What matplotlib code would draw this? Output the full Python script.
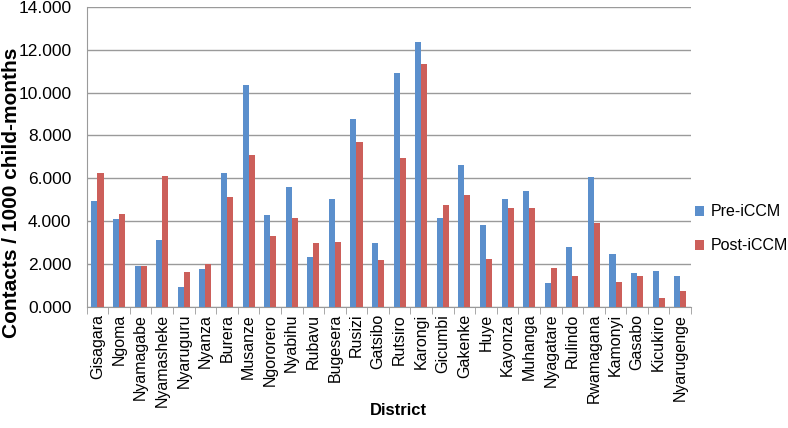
import numpy as np
import matplotlib.pyplot as plt

plt.rcParams['font.family'] = ['Liberation Sans', 'DejaVu Sans']

districts = ["Gisagara", "Ngoma", "Nyamagabe", "Nyamasheke", "Nyaruguru", "Nyanza",
             "Burera", "Musanze", "Ngororero", "Nyabihu", "Rubavu", "Bugesera",
             "Rusizi", "Gatsibo", "Rutsiro", "Karongi", "Gicumbi", "Gakenke", "Huye",
             "Kayonza", "Muhanga", "Nyagatare", "Rulindo", "Rwamagana", "Kamonyi",
             "Gasabo", "Kicukiro", "Nyarugenge"]
pre = [4.95, 4.10, 1.90, 3.10, 0.95, 1.75, 6.25, 10.35, 4.30, 5.60, 2.35, 5.05,
       8.75, 3.00, 10.90, 12.35, 4.15, 6.60, 3.80, 5.05, 5.40, 1.10, 2.80, 6.05,
       2.45, 1.60, 1.68, 1.45]
post = [6.25, 4.35, 1.92, 6.10, 1.65, 2.00, 5.15, 7.10, 3.30, 4.15, 3.00, 3.05,
        7.70, 2.20, 6.95, 11.35, 4.75, 5.20, 2.25, 4.60, 4.60, 1.80, 1.45, 3.90,
        1.15, 1.45, 0.40, 0.75]

fig = plt.figure(figsize=(7.88, 4.28), dpi=100)
ax = fig.add_axes([0.110, 0.283, 0.767, 0.701])

x = np.arange(len(districts))
w = 0.28
ax.bar(x - w / 2, pre, w, color="#5B8FCC", label="Pre-iCCM", zorder=3)
ax.bar(x + w / 2, post, w, color="#CC5F5A", label="Post-iCCM", zorder=3)

ax.set_xlim(-0.5, len(districts) - 0.5)
ax.set_ylim(0, 14)
ax.set_yticks(np.arange(0, 15, 2))
ax.set_yticklabels(["%.3f" % v for v in np.arange(0, 15, 2)], fontsize=12.5)
ax.yaxis.grid(True, color="#9a9a9a", linewidth=1, zorder=0)
ax.tick_params(axis="y", length=0, pad=11)

ax.set_xticks(x)
ax.set_xticklabels(districts, rotation=90, fontsize=11.5)
ax.set_xticks(np.arange(-0.5, len(districts), 1), minor=True)
ax.tick_params(axis="x", which="major", length=0, pad=5)
ax.tick_params(axis="x", which="minor", length=5, color="#9a9a9a", direction="out")

for s in ["top", "right"]:
    ax.spines[s].set_visible(False)
ax.spines["left"].set_color("#9a9a9a")
ax.spines["bottom"].set_color("#9a9a9a")

fig.text(0.0145, 0.549, "Contacts / 1000 child-months", fontsize=15, fontweight="bold",
         rotation=90, ha="center", va="center")
fig.text(0.505, 0.04, "District", fontsize=12, fontweight="bold", ha="center", va="center")

ax.legend(loc="center left", bbox_to_anchor=(1.006, 0.26), frameon=False, fontsize=11.5,
          handlelength=0.6, handleheight=0.6, handletextpad=0.4, labelspacing=1.2,
          borderpad=0, borderaxespad=0)

fig.savefig("out.png", dpi=100)
